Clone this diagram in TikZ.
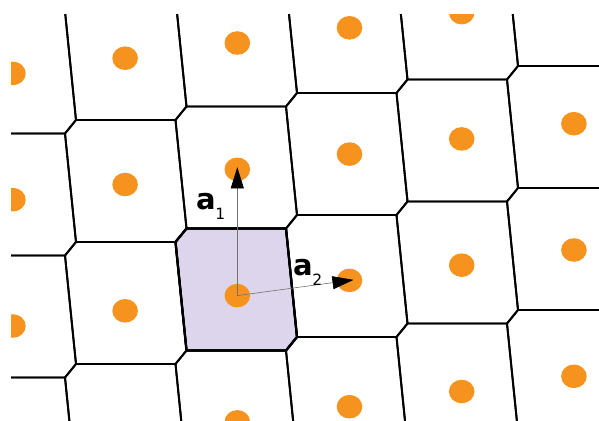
\documentclass[tikz,border=0pt]{standalone}
\usepackage{fontspec}
\setmainfont{DejaVu Sans}
\usetikzlibrary{arrows.meta,shapes.geometric}
\definecolor{dotorange}{RGB}{246,147,30}
\definecolor{cellfill}{RGB}{221,213,236}
\newcommand\mysubidx[1]{\raisebox{-9.5pt}{\fontsize{15.5}{15.5}\selectfont\mdseries #1}}
\begin{document}
\begin{tikzpicture}[x=1pt,y=-1pt,
  cellline/.style={line width=1.9pt,line join=round,draw=black},
  hilite/.style={fill=cellfill,draw=black,line width=2.2pt,line join=round},
  latdot/.style={ellipse,fill=dotorange,draw=none,inner sep=0pt,minimum width=25.6pt,minimum height=23.6pt},
  vec/.style={draw=black!55,line width=0.6pt,-{Triangle[length=21pt,width=13pt,color=black]}},
  lab/.style={inner sep=0pt,font=\fontsize{29}{29}\selectfont\bfseries}]
\useasboundingbox (0,0) rectangle (599,420);
\begin{scope}
\clip (11,15) rectangle (599,420);
% highlighted Wigner-Seitz cell
\path[hilite] (175.5,242) -- (186.5,228.5) -- (286,228.5) -- (297,337) -- (286,350.5) -- (186.5,350.5) -- cycle;
% tessellation
\foreach \cc in {-1,...,6}{
  \foreach \rr in {-3,...,2}{
    \draw[cellline,shift={({(\cc-2)*110.5},{(\cc-2)*(-13.5)+\rr*122})}]
      (175.5,242) -- (186.5,228.5) -- (286,228.5) -- (297,337) -- (286,350.5) -- (186.5,350.5) -- cycle;
  }
}
\path[hilite,fill=none] (175.5,242) -- (186.5,228.5) -- (286,228.5) -- (297,337) -- (286,350.5) -- (186.5,350.5) -- cycle;
% lattice points
\foreach \cc in {0,...,5}{
  \foreach \rr in {-2,...,1}{
    \node[latdot] (d\cc r\rr) at ({12.9+112.2*\cc},{326-15.2*\cc+126.3*\rr}) {};
  }
}
\end{scope}
% primitive vectors
\draw[vec,shorten >=-2pt] (d2r0.center) -- (d2r-1.center);
\draw[vec,shorten >=-4pt] (d2r0.center) -- (d3r0.center);
\node[lab,anchor=base west] (la1) at (196,209.5) {a\kern-0.3pt\mysubidx{1}};
\node[lab,anchor=base west] (la2) at (293,275.5) {a\kern-0.3pt\mysubidx{2}};
\end{tikzpicture}
\end{document}
